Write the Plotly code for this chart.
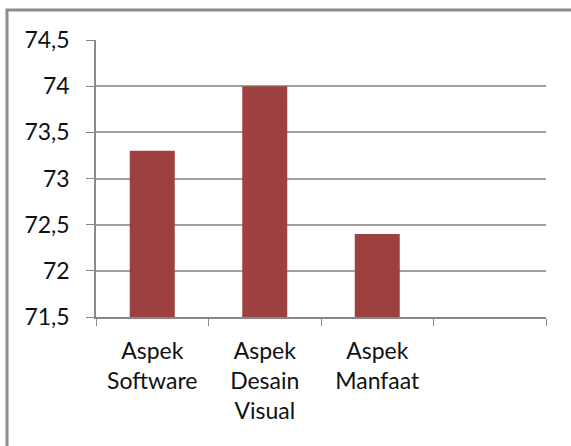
import plotly.graph_objects as go

categories = ["Aspek<br>Software", "Aspek<br>Desain<br>Visual", "Aspek<br>Manfaat"]
values = [73.3, 74.0, 72.4]
extra_slot = [" "]
y_ticks = [71.5, 72, 72.5, 73, 73.5, 74, 74.5]

W, H = 571, 446
L, R, T, B = 96, 25, 40, 129

fig = go.Figure(go.Bar(
    x=categories, y=values, marker=dict(color="#9F4040", line=dict(width=0)),
    width=0.4,
))

pw = W - L - R
ph = H - T - B
fig.add_shape(type="rect", xref="paper", yref="paper",
              x0=(7 - L) / pw, x1=(W + 20 - L) / pw,
              y0=(H - B - 470) / ph, y1=(H - B - 10) / ph,
              line=dict(color="#8C8C8C", width=3), fillcolor="rgba(0,0,0,0)", layer="below")

fig.update_layout(
    width=W, height=H, margin=dict(l=L, r=R, t=T, b=B),
    paper_bgcolor="white", plot_bgcolor="white",
    separators=",.",
    font=dict(family="Lato", size=23, color="#111"),
    showlegend=False,
    xaxis=dict(type="category", categoryorder="array", categoryarray=categories + extra_slot,
               range=[-0.5, 3.5], tickson="boundaries", ticks="outside", ticklen=7,
               tickcolor="#888", showline=True, linecolor="#888", linewidth=1.5,
               showgrid=False, ticklabelstandoff=13),
    yaxis=dict(range=[71.5, 74.5], tickvals=y_ticks, ticks="outside", ticklen=8,
               tickcolor="#888", showline=True, linecolor="#888", linewidth=1.5,
               showgrid=True, gridcolor="#A0A0A0", gridwidth=1.5, zeroline=False,
               ticklabelstandoff=12),
)

fig.write_html("out.html")
